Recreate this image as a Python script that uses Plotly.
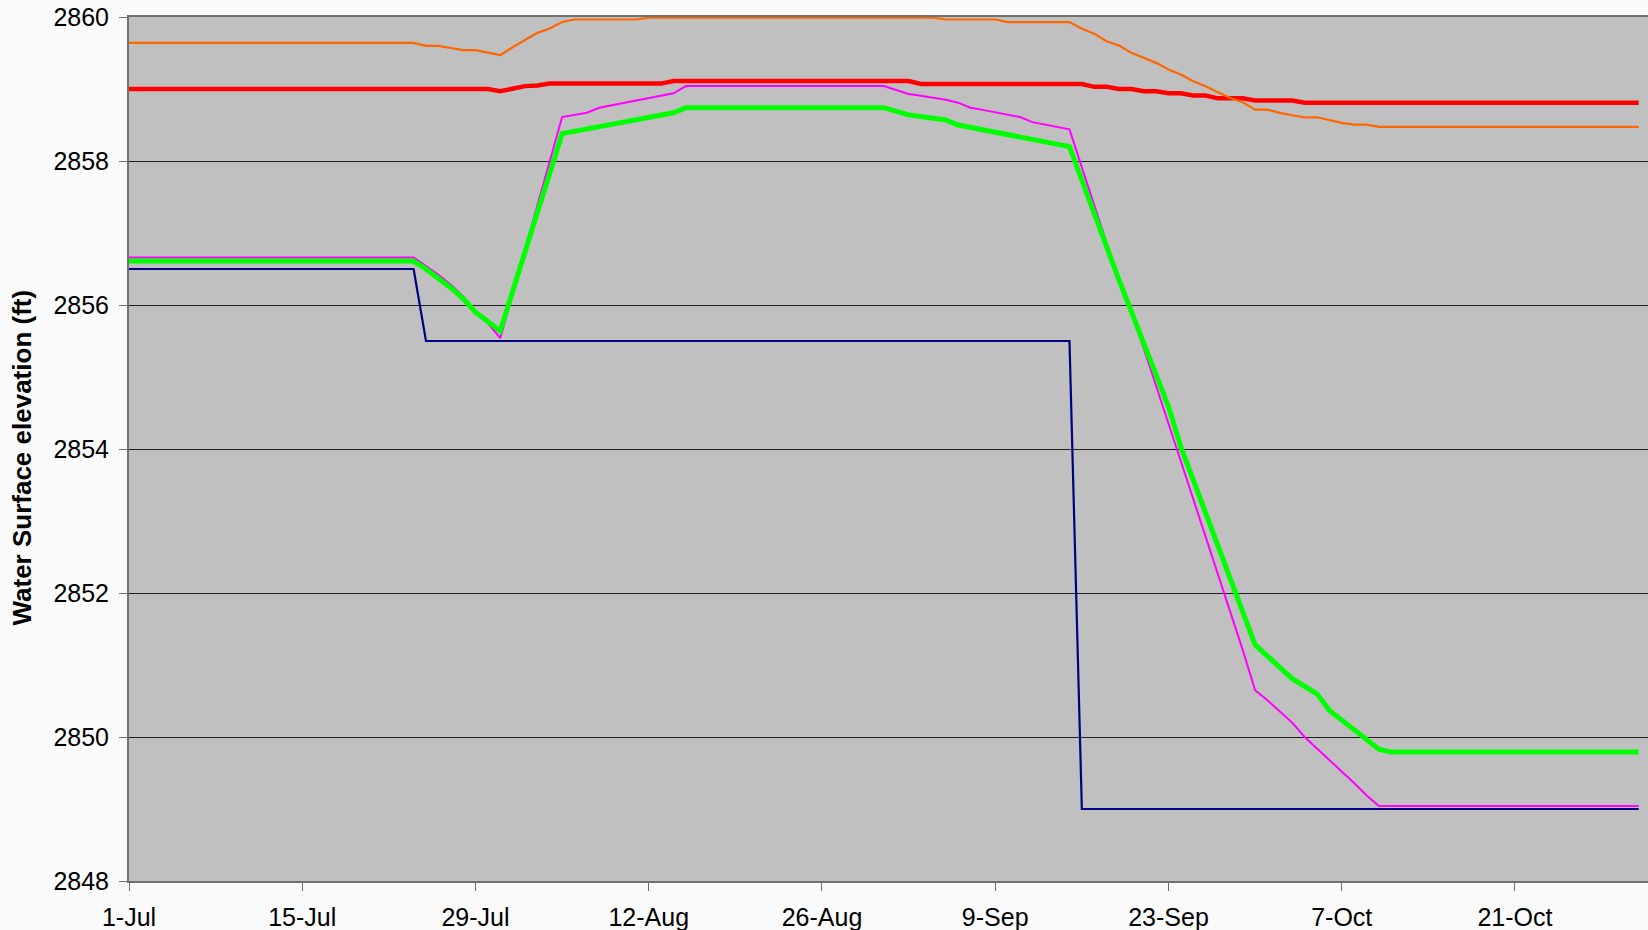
import pandas as pd
import plotly.graph_objects as go

START = pd.Timestamp("2008-07-01")

# days since 1-Jul and water surface elevations (ft)
orange_days = [0, 23, 24, 25, 26, 27, 28, 29, 30, 31, 32, 33, 34, 35, 36, 41, 42, 65, 66, 70, 71, 76,
               77, 78, 79, 80, 81, 82, 83, 84, 85, 86, 87, 88, 89, 90, 91, 92, 93, 94, 95, 96, 97, 98,
               99, 100, 101, 122]
orange_vals = [2859.64, 2859.64, 2859.60, 2859.60, 2859.57, 2859.54, 2859.54, 2859.50, 2859.47, 2859.58,
               2859.68, 2859.78, 2859.84, 2859.93, 2859.965, 2859.965, 2859.99, 2859.99, 2859.965,
               2859.965, 2859.93, 2859.93, 2859.836, 2859.766, 2859.664, 2859.604, 2859.502, 2859.432,
               2859.363, 2859.27, 2859.201, 2859.108, 2859.038, 2858.955, 2858.876, 2858.816, 2858.714,
               2858.714, 2858.668, 2858.635, 2858.607, 2858.607, 2858.566, 2858.529, 2858.506, 2858.506,
               2858.473, 2858.473]

red_days = [0, 29, 30, 31, 32, 33, 34, 43, 44, 63, 64, 77, 78, 79, 80, 81, 82, 83, 84, 85, 86, 87, 88,
            90, 91, 94, 95, 122]
red_vals = [2859.0, 2859.0, 2858.97, 2859.0, 2859.04, 2859.05, 2859.075, 2859.075, 2859.11, 2859.11,
            2859.07, 2859.07, 2859.03, 2859.03, 2859.0, 2859.0, 2858.97, 2858.97, 2858.94, 2858.94,
            2858.91, 2858.91, 2858.87, 2858.87, 2858.84, 2858.84, 2858.81, 2858.81]

magenta_days = [0, 23, 24, 25, 26, 27, 28, 29, 30, 35, 37, 38, 44, 45, 61, 62, 63, 64, 65, 66, 67, 68,
                69, 70, 71, 72, 73, 74, 75, 76, 79, 82, 85, 88, 90, 91, 92, 94, 95, 99, 100, 101, 122]
magenta_vals = [2856.66, 2856.66, 2856.54, 2856.42, 2856.28, 2856.12, 2855.89, 2855.75, 2855.54,
                2858.61, 2858.67, 2858.74, 2858.94, 2859.04, 2859.04, 2858.99, 2858.93, 2858.905,
                2858.88, 2858.85, 2858.81, 2858.74, 2858.71, 2858.68, 2858.65, 2858.61, 2858.54,
                2858.51, 2858.48, 2858.44, 2856.86, 2855.40, 2853.83, 2852.27, 2851.21, 2850.65,
                2850.51, 2850.20, 2850.0, 2849.36, 2849.19, 2849.04, 2849.04]

green_days = [0, 23, 24, 25, 26, 27, 28, 29, 30, 35, 44, 45, 61, 63, 66, 67, 76, 79, 80, 84, 85, 91, 93,
              94, 96, 97, 101, 102, 122]
green_vals = [2856.61, 2856.61, 2856.50, 2856.38, 2856.24, 2856.09, 2855.90, 2855.77, 2855.64, 2858.38,
              2858.67, 2858.74, 2858.74, 2858.64, 2858.57, 2858.50, 2858.20, 2856.81, 2856.35, 2854.59,
              2854.03, 2851.28, 2850.97, 2850.81, 2850.60, 2850.37, 2849.83, 2849.79, 2849.79]

navy_days = [0, 23, 24, 76, 77, 122]
navy_vals = [2856.5, 2856.5, 2855.5, 2855.5, 2849.0, 2849.0]

tick_days = [0, 14, 28, 42, 56, 70, 84, 98, 112]
tick_labels = ["1-Jul", "15-Jul", "29-Jul", "12-Aug", "26-Aug", "9-Sep", "23-Sep", "7-Oct", "21-Oct"]
y_ticks = [2848, 2850, 2852, 2854, 2856, 2858, 2860]


def to_dates(days):
    return [START + pd.Timedelta(days=d) for d in days]


fig = go.Figure()
series = [
    (navy_days, navy_vals, "#000080", 2.2),
    (magenta_days, magenta_vals, "#FF00FF", 2.0),
    (green_days, green_vals, "#00FF00", 5.0),
    (red_days, red_vals, "#FF0000", 4.5),
    (orange_days, orange_vals, "#FF6600", 2.2),
]
for d, v, c, w in series:
    fig.add_trace(go.Scatter(x=to_dates(d), y=v, mode="lines",
                             line=dict(color=c, width=w), showlegend=False,
                             hoverinfo="skip"))

font_family = "Liberation Sans, Arial, sans-serif"
fig.update_layout(
    width=1648, height=930,
    margin=dict(l=129, r=0, t=17, b=49),
    paper_bgcolor="#FAFAFA",
    plot_bgcolor="#C0C0C0",
    font=dict(family=font_family, size=25, color="#000000"),
    xaxis=dict(
        range=[START, START + pd.Timedelta(hours=122.75 * 24)],
        tickvals=to_dates(tick_days), ticktext=tick_labels,
        showgrid=False, zeroline=False,
        showline=True, linecolor="#707070", linewidth=2, mirror=True,
        ticks="outside", ticklen=8, tickcolor="#707070", tickwidth=1,
        tickfont=dict(size=25), ticklabelstandoff=5,
    ),
    yaxis=dict(
        range=[2848, 2860], tickvals=y_ticks,
        showgrid=True, gridcolor="#202020", gridwidth=1, zeroline=False,
        showline=True, linecolor="#707070", linewidth=2,
        ticks="outside", ticklen=8, tickcolor="#707070", tickwidth=1,
        tickfont=dict(size=25), ticklabelstandoff=5,
    ),
    annotations=[dict(
        text="<b>Water Surface elevation (ft)</b>", textangle=-90,
        xref="paper", yref="paper", x=-0.0705, y=0.49,
        xanchor="center", yanchor="middle", showarrow=False,
        font=dict(size=26, family=font_family, color="#000000"),
    )],
)

fig.write_html("out.html", config={"displayModeBar": False},
               post_script="document.body.style.margin='0';document.body.style.overflow='hidden';")
